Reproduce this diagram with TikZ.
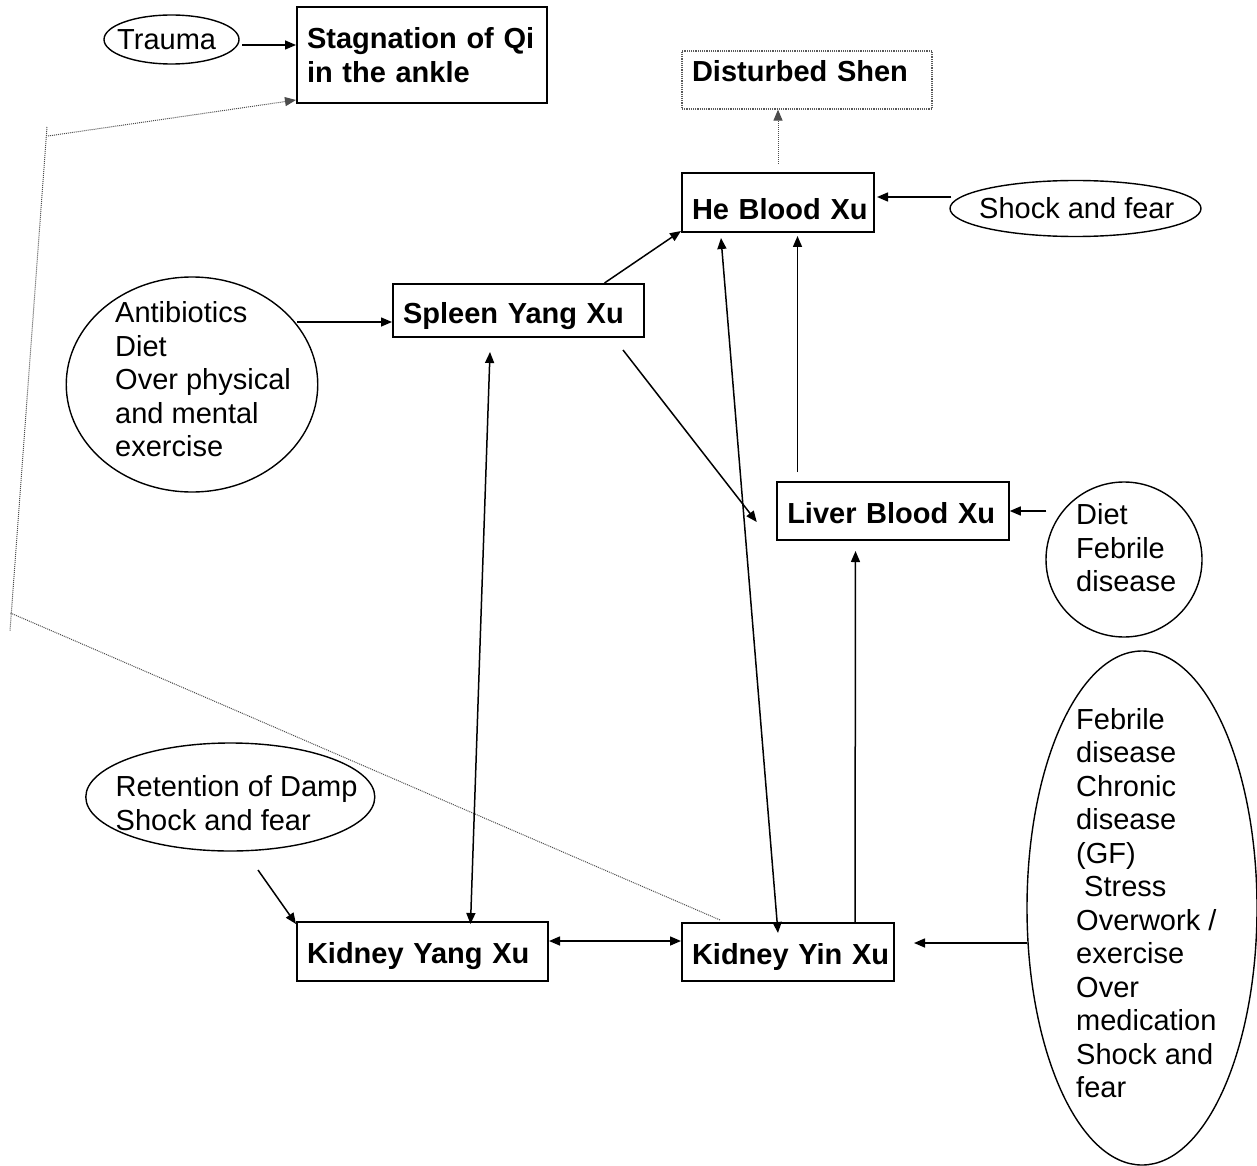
\documentclass[tikz,border=0pt]{standalone}
\usepackage{fontspec}
\setmainfont{Liberation Sans}
\usetikzlibrary{shapes.geometric,arrows.meta}
\begin{document}
\begin{tikzpicture}[x=1pt,y=-1pt,
  txt/.style={font=\fontsize{29}{33.5}\selectfont},
  sbox/.style={draw, line width=2pt, inner xsep=10pt, inner ysep=0pt, align=left,
    font=\bfseries\fontsize{29}{33.5}\selectfont},
  dbox/.style={draw=black!65, densely dotted, line width=1.2pt, inner xsep=10pt, inner ysep=0pt, align=left,
    font=\bfseries\fontsize{29}{33.5}\selectfont},
  ell/.style={draw, ellipse, line width=1.4pt, inner sep=0pt},
  etext/.style={txt, inner sep=0pt, align=left, anchor=north west},
  arr/.style={line width=1.5pt, -{Triangle[length=11pt,width=9pt]}},
  arrb/.style={line width=1.5pt, {Triangle[length=11pt,width=9pt]}-{Triangle[length=11pt,width=9pt]}},
  dline/.style={draw=black!70, densely dotted, line width=1pt},
  darr/.style={dline, -{Triangle[length=11pt,width=9pt]}}
]
\useasboundingbox (0,0) rectangle (1257,1166);

% boxes
\node[sbox, minimum width=250pt, minimum height=96pt, text width=230pt] (stag) at (422,55)
  {\mbox{Stagnation of Qi}\\in the ankle};
\node[dbox, minimum width=250pt, minimum height=58pt, text width=230pt, text height=21pt, text depth=18pt] (shen) at (807,80)
  {\mbox{Disturbed Shen}};
\node[sbox, minimum width=192pt, minimum height=59pt, text width=172pt, text height=34pt, text depth=0pt] (he) at (778,202.5)
  {\mbox{He Blood Xu}};
\node[sbox, minimum width=251pt, minimum height=53pt, text width=231pt, text height=25pt, text depth=0pt] (spleen) at (518.5,310.5)
  {\mbox{Spleen Yang Xu}};
\node[sbox, minimum width=231.5pt, minimum height=58pt, text width=211.5pt, text height=25pt, text depth=0pt] (liver) at (893,511)
  {\mbox{Liver Blood Xu}};
\node[sbox, minimum width=251pt, minimum height=59pt, text width=231pt, text height=24pt, text depth=0pt] (kyang) at (422.5,951.5)
  {\mbox{Kidney Yang Xu}};
\node[sbox, minimum width=212pt, minimum height=58pt, text width=192pt, text height=24pt, text depth=0pt] (kyin) at (788,952)
  {\mbox{Kidney Yin Xu}};

% ellipses
\node[ell, minimum width=135pt, minimum height=49pt] (trauma) at (171.5,39.5) {};
\node[etext] (traumat) at (117,29) {Trauma};
\node[ell, minimum width=251pt, minimum height=56pt] (shock) at (1075.5,208.5) {};
\node[etext] (shockt) at (979,197) {Shock and fear};
\node[ell, minimum width=251.5pt, minimum height=215pt] (anti) at (192,384.5) {};
\node[etext] (antit) at (115,301.3) {Antibiotics\\Diet\\Over physical\\and mental\\exercise};
\node[ell, minimum width=156pt, minimum height=155pt] (diet) at (1124,559.5) {};
\node[etext] (dietxt) at (1076,503.3) {Diet\\Febrile\\disease};
\node[ell, minimum width=289pt, minimum height=108pt] (ret) at (230.3,797) {};
\node[etext] (rett) at (115.5,775.3) {Retention of Damp\\Shock and fear};
\node[ell, minimum width=230pt, minimum height=514pt] (big) at (1142,908) {};
\node[etext] (bigt) at (1076,708) {Febrile\\disease\\Chronic\\disease\\(GF)\\\hspace*{8pt}Stress\\Overwork /\\exercise\\Over\\medication\\Shock and\\fear};

% coordinates for free ends
\coordinate (t1) at (242,45);
\coordinate (a1) at (297,322);
\coordinate (dA) at (47,127);
\coordinate (dB) at (10,631);
\coordinate (dC) at (48,136);
\coordinate (dD) at (10.5,613);
\coordinate (r1) at (258,870);

% connectors
\draw[arr] (t1) -- (t1 -| stag.west);
\draw[dline] (dA) -- (dB);
\draw[darr] (dC) -- ([yshift=4pt]stag.south west);
\draw[dline] (dD) -- ([shift={(39pt,2pt)}]kyin.north west);
\draw[darr] ([yshift=8pt]he.north) -- (he.north |- shen.south);
\draw[arr] ([shift={(2pt,11.5pt)}]shock.west) -- ([shift={(2pt,11.5pt)}]shock.west -| he.east);
\draw[arr] (a1) -- (a1 -| spleen.west);
\draw[arr] ([xshift=86pt]spleen.north) -- ([yshift=2pt]he.south west);
\draw[arr] ([shift={(104.5pt,-12pt)}]spleen.south) -- ([shift={(-19.5pt,-11pt)}]liver.west);
\draw[arrb] ([shift={(-28.5pt,-14pt)}]spleen.south) -- ([shift={(48pt,-3pt)}]kyang.north);
\draw[arrb] ([shift={(-57pt,-5pt)}]he.south) -- ([shift={(-10pt,-11pt)}]kyin.north);
\draw[arr] ([shift={(-95.5pt,9pt)}]liver.north) -- ([shift={(19.5pt,-3pt)}]he.south);
\draw[arr] ([shift={(1pt,48.5pt)}]diet.west) -- (liver.east);
\draw[arr] ([xshift=67pt]kyin.north) -- ([shift={(-37.5pt,-10pt)}]liver.south);
\draw[arr] (r1) -- ([yshift=-3pt]kyang.north west);
\draw[arrb] ([yshift=10.5pt]kyang.east) -- ([yshift=10.5pt]kyang.east -| kyin.west);
\draw[arr] ([shift={(1pt,-35pt)}]big.west) -- ([shift={(19pt,9pt)}]kyin.east);
\end{tikzpicture}
\end{document}
